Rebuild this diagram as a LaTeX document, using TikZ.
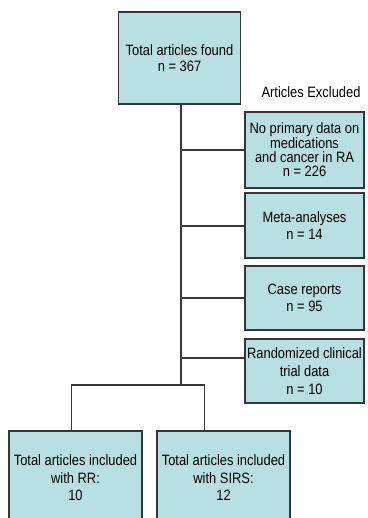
\documentclass[tikz,border=0pt]{standalone}
\usepackage{fontspec}
\setmainfont[FakeStretch=0.86]{Liberation Sans}
\definecolor{boxfill}{RGB}{184,223,225}
\definecolor{linec}{RGB}{55,55,55}
\begin{document}
\begin{tikzpicture}[x=1pt,y=-1pt,
  box/.style={draw=linec,line width=1.4pt,fill=boxfill,align=center,inner sep=0pt,
    font=\fontsize{15}{17}\selectfont},
  conn/.style={draw=linec,line width=1.4pt}]
\clip (0,0) rectangle (367,518);
\fill[white] (0,0) rectangle (367,518);
\node[box,minimum width=122pt,minimum height=92pt,font=\fontsize{15}{16.5}\selectfont] (top) at (179.5,58) {Total articles found\\n = 367};
\node[font=\fontsize{15}{17}\selectfont] (excl) at (311,92) {Articles Excluded};
\node[box,minimum width=119pt,minimum height=76pt,font=\fontsize{15}{14.3}\selectfont] (b1) at (304.5,150) {No primary data on\\medications\\and cancer in RA\\n = 226};
\node[box,minimum width=119pt,minimum height=65pt] (b2) at (304.5,225.5) {Meta-analyses\\n = 14};
\node[box,minimum width=119pt,minimum height=64pt] (b3) at (304.5,298) {Case reports\\n = 95};
\node[box,minimum width=119pt,minimum height=64pt,font=\fontsize{15}{18.3}\selectfont] (b4) at (304.5,371) {Randomized clinical\\trial data\\n = 10};
\node[box,minimum width=133pt,minimum height=94pt,font=\fontsize{15}{17.5}\selectfont] (rr) at (75.5,478) {Total articles included\\with RR:\\10};
\node[box,minimum width=133pt,minimum height=94pt,font=\fontsize{15}{17.5}\selectfont] (sirs) at (223.5,478) {Total articles included\\with SIRS:\\12};
\coordinate (s0) at (181,104);
\coordinate (s1) at (181,150);
\coordinate (s2) at (181,226);
\coordinate (s3) at (181,298);
\coordinate (s4) at (181,358);
\coordinate (s5) at (181,385);
\coordinate (sl) at (71.5,385);
\coordinate (sr) at (204.5,385);
\draw[conn] (s0) -- (s5);
\draw[conn] (s1) -- (s1 -| b1.west);
\draw[conn] (s2) -- (s2 -| b2.west);
\draw[conn] (s3) -- (s3 -| b3.west);
\draw[conn] (s4) -- (s4 -| b4.west);
\draw[conn] (sl |- rr.north) -- (sl) -- (sr) -- (sr |- sirs.north);
\end{tikzpicture}
\end{document}
